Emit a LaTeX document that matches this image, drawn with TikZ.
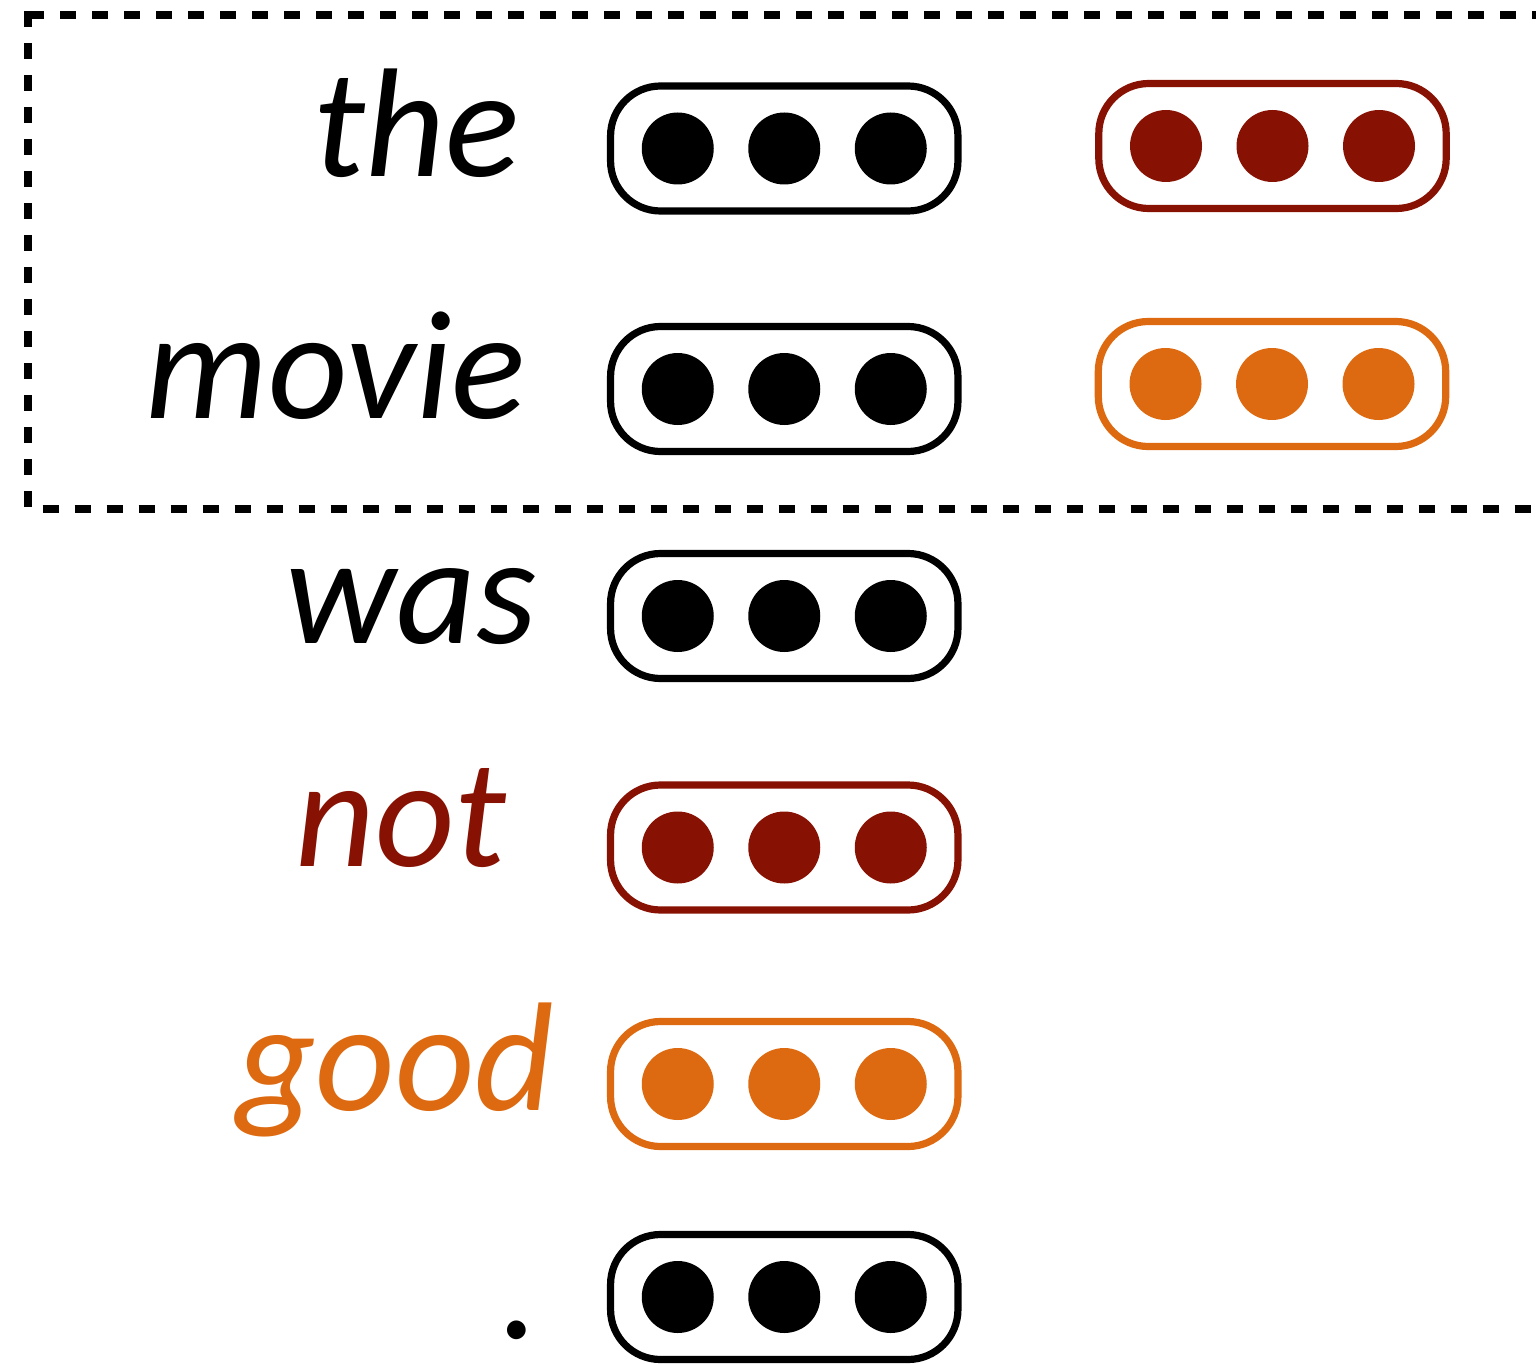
\documentclass[tikz,border=0pt]{standalone}
\usepackage{fontspec}
\setmainfont{Carlito}
\definecolor{dred}{RGB}{135,17,2}
\definecolor{orng}{RGB}{221,106,16}
\newcommand\mkvec[4]{%
  \node[vec=#4] (#1) at (#2,#3) {};
  \node[dotc=#4] (#1-a) at ($(#1.center)+(-106.5,0)$) {};
  \node[dotc=#4] (#1-b) at (#1.center) {};
  \node[dotc=#4] (#1-c) at ($(#1.center)+(106.5,0)$) {};
}
\usetikzlibrary{calc}
\begin{document}
\begin{tikzpicture}[x=0.5pt,y=-0.5pt,
  vec/.style={draw=#1, line width=3.6pt, rounded corners=25pt,
    minimum width=173.7pt, minimum height=62.5pt, inner sep=0pt},
  vec/.default=black,
  dotc/.style={circle, fill=#1, minimum size=36pt, inner sep=0pt},
  word/.style={anchor=base east, inner sep=0pt,
    font=\fontsize{77.5}{80}\selectfont\itshape, text=#1},
  frame/.style={line width=4pt, dash pattern=on 8pt off 8pt}]
\useasboundingbox (0,0) rectangle (1536,1364);
% dashed frame
\draw[frame] (28,15) -- (1580,15);
\draw[frame] (28,11) -- (28,508.5) -- (1580,508.5);
% words
\node[word=black] (w-the) at (520,177) {the};
\node[word=black] (w-movie) at (526,418) {movie};
\node[word=black] (w-was) at (537,643) {was};
\node[word=dred] (w-not) at (507,866) {not};
\node[word=orng] (w-good) at (555,1110) {good};
\node[word=black] (w-dot) at (540,1338) {.};
% vectors
\mkvec{v-the}{784.25}{148.5}{black}
\mkvec{v-movie}{784.25}{389}{black}
\mkvec{v-was}{784.25}{616}{black}
\mkvec{v-not}{784.25}{847.5}{dred}
\mkvec{v-good}{784.25}{1084}{orng}
\mkvec{v-dot}{784.25}{1297}{black}
\mkvec{r-the}{1272.5}{146}{dred}
\mkvec{r-movie}{1272}{384}{orng}
\end{tikzpicture}
\end{document}
